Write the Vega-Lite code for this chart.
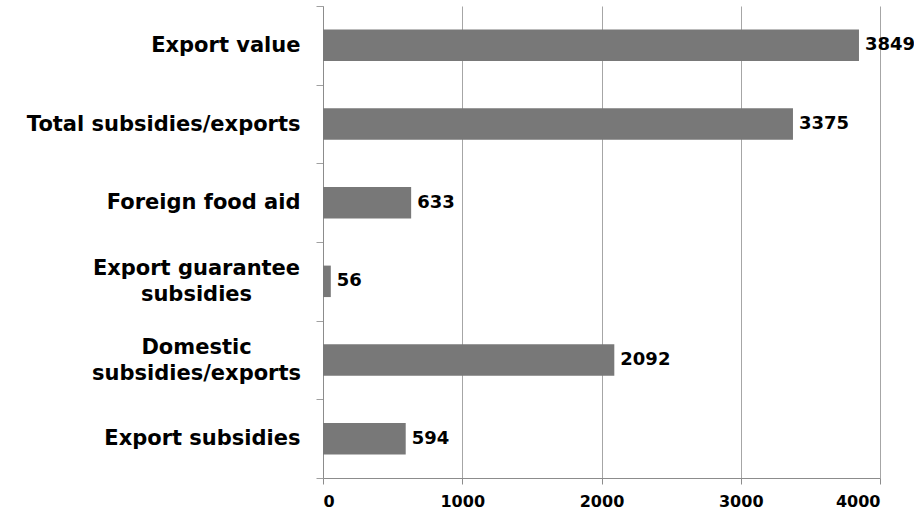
{
  "$schema": "https://vega.github.io/schema/vega-lite/v6.json",
  "width": 557,
  "height": 472,
  "autosize": {"type": "none"},
  "padding": {"left": 323, "top": 6, "right": 34, "bottom": 37},
  "background": "white",
  "config": {"view": {"stroke": null}},
  "data": {
    "values": [
      {"category": "Export value", "value": 3849},
      {"category": "Total subsidies/exports", "value": 3375},
      {"category": "Foreign food aid", "value": 633},
      {"category": "Export guarantee|subsidies", "value": 56},
      {"category": "Domestic|subsidies/exports", "value": 2092},
      {"category": "Export subsidies", "value": 594}
    ]
  },
  "encoding": {
    "y": {
      "field": "category",
      "type": "nominal",
      "sort": null,
      "scale": {"paddingInner": 0, "paddingOuter": 0},
      "axis": {
        "title": null,
        "labelExpr": "split(datum.label, '|')",
        "labelFont": "DejaVu Sans",
        "labelFontWeight": "bold",
        "labelFontSize": 21,
        "labelColor": "black",
        "labelLineHeight": 26,
        "labelLimit": 400,
        "labelAlign": {"condition": {"test": "indexof(datum.label, '|') >= 0", "value": "center"}, "value": "right"},
        "labelPadding": {"condition": {"test": "indexof(datum.label, '|') >= 0", "value": 120}, "value": 16},
        "labelOffset": {"condition": {"test": "indexof(datum.label, '|') >= 0", "value": -13}, "value": 0},
        "tickBand": "extent",
        "tickSize": 7,
        "tickColor": "#a0a0a0",
        "domainColor": "#8c8c8c"
      }
    }
  },
  "layer": [
    {
      "mark": {"type": "bar", "color": "#787878", "height": {"band": 0.4}},
      "encoding": {
        "x": {
          "field": "value",
          "type": "quantitative",
          "scale": {"domain": [0, 4000]},
          "axis": {
            "title": null,
            "values": [0, 1000, 2000, 3000, 4000],
            "grid": true,
            "gridColor": "#a6a6a6",
            "domainColor": "#8c8c8c",
            "tickColor": "#8c8c8c",
            "tickSize": 6,
            "labelFont": "DejaVu Sans",
            "labelFontWeight": "bold",
            "labelFontSize": 16,
            "labelColor": "black",
            "labelPadding": 9,
            "format": "d"
          }
        }
      }
    },
    {
      "mark": {"type": "text", "align": "left", "dx": 6, "font": "DejaVu Sans", "fontWeight": "bold", "fontSize": 18, "color": "black"},
      "encoding": {
        "x": {"field": "value", "type": "quantitative"},
        "text": {"field": "value", "type": "quantitative", "format": "d"}
      }
    }
  ]
}
